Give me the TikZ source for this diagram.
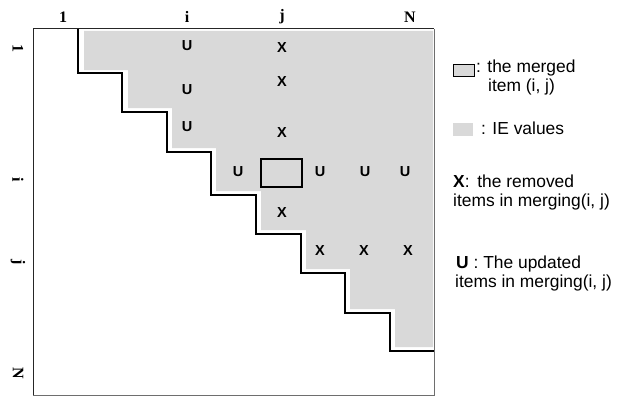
\documentclass[tikz,border=0pt]{standalone}
\usepackage{fontspec}
\setmainfont{Liberation Sans}
\newfontfamily\idxfont{Liberation Serif}
\definecolor{iegray}{RGB}{217,217,217}
\definecolor{framegray}{RGB}{110,110,110}
\tikzset{
  idx/.style={font=\idxfont\bfseries\fontsize{16}{18}\selectfont, inner sep=0pt},
  rowidx/.style={idx, rotate=-90},
  cellmark/.style={font=\bfseries\fontsize{14.5}{16}\selectfont, inner sep=0pt},
  legtext/.style={font=\fontsize{17.4}{19}\selectfont, inner sep=0pt, anchor=base west},
  stair/.style={line width=1.6pt, black},
  frameline/.style={line width=1pt},
  mergedbox/.style={draw=black, line width=1.3pt, minimum width=41pt, minimum height=28pt, inner sep=0pt},
}
\begin{document}
\begin{tikzpicture}[x=1pt,y=-1pt]
\useasboundingbox (0,0) rectangle (617,396);

% shaded upper triangle of IE values
\fill[iegray] (84,31) -- (433,31) -- (433,347) -- (395,347) -- (395,309)
  -- (350,309) -- (350,269) -- (306,269) -- (306,230) -- (261,230)
  -- (261,191) -- (216,191) -- (216,148) -- (172,148) -- (172,108)
  -- (128,108) -- (128,70) -- (84,70) -- cycle;

% matrix frame: dark top and left, grey right and bottom
\draw[frameline, draw=framegray] (434,29) -- (434,395) -- (33,395);
\draw[frameline, draw=black!85] (33,395) -- (33,29) -- (434,29);

% staircase along the diagonal
\draw[stair] (78,29) -- (78,73) -- (122,73) -- (122,112) -- (167,112)
  -- (167,152) -- (211,152) -- (211,195) -- (256,195) -- (256,234)
  -- (301,234) -- (301,273) -- (345,273) -- (345,313) -- (390,313)
  -- (390,351) -- (434,351);

% column indices
\node[idx] (c1) at (63,17) {1};
\node[idx] (ci) at (187,17) {i};
\node[idx] (cj) at (282,17) {j};
\node[idx] (cN) at (410,17) {N};

% row indices
\node[rowidx] (r1) at (18,49) {1};
\node[rowidx] (ri) at (18,180) {i};
\node[rowidx] (rj) at (18,262) {j};
\node[rowidx] (rN) at (18,373) {N};

% updated entries in column i
\node[cellmark] (u1) at (187,46) {U};
\node[cellmark] (u2) at (187,90) {U};
\node[cellmark] (u3) at (187,127) {U};
% removed entries in column j
\node[cellmark] (x1) at (282,48) {X};
\node[cellmark] (x2) at (282,82) {X};
\node[cellmark] (x3) at (282,133) {X};

% row i
\node[cellmark] (u4) at (238,172) {U};
\node[mergedbox] (m) at (281.5,173) {};
\node[cellmark] (u5) at (320,172) {U};
\node[cellmark] (u6) at (365,172) {U};
\node[cellmark] (u7) at (405,172) {U};

% removed entries in column j and row j
\node[cellmark] (x4) at (282,213) {X};
\node[cellmark] (x5) at (320,251) {X};
\node[cellmark] (x6) at (364,251) {X};
\node[cellmark] (x7) at (408,251) {X};

% legend
\node[draw=black, line width=1pt, fill=iegray, minimum width=21pt, minimum height=12pt, inner sep=0pt] (lgbox) at (464,70) {};
\node[legtext] (lg1) at (476,72) {: the merged};
\node[legtext] (lg1b) at (488,91) {item (i, j)};

\node[fill=iegray, minimum width=20pt, minimum height=13pt, inner sep=0pt] (lgfill) at (463,129.5) {};
\node[legtext] (lg2) at (481,134) {: IE values};

\node[legtext] (lg3) at (453,187) {\textbf{X}:\, the removed};
\node[legtext] (lg3b) at (453,206) {items in merging(i, j)};

\node[legtext] (lg4) at (456,268) {\textbf{U} : The updated};
\node[legtext] (lg4b) at (455,287) {items in merging(i, j)};
\end{tikzpicture}
\end{document}
